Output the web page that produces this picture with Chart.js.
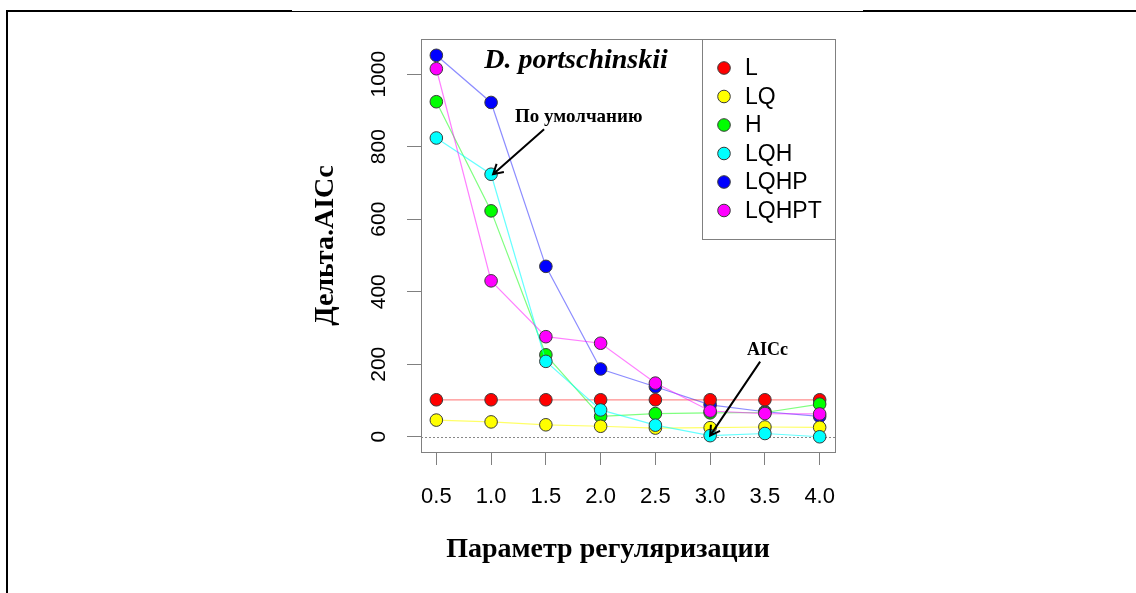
<!DOCTYPE html>
<html>
<head>
<meta charset="utf-8">
<script src="https://cdn.jsdelivr.net/npm/chart.js@4/dist/chart.umd.min.js"></script>
<style>
  body { margin: 0; background: #fff; }
  #wrap { position: relative; width: 1136px; height: 593px; overflow: hidden; }
  .rule { position: absolute; background: #000; }
  canvas { position: absolute; left: 0; top: 0; }
</style>
</head>
<body>
<div id="wrap">
  <div class="rule" style="left:6px;top:10px;width:2px;height:583px"></div>
  <div class="rule" style="left:6px;top:10px;width:286px;height:2px"></div>
  <div class="rule" style="left:292px;top:11px;width:571px;height:1px"></div>
  <div class="rule" style="left:863px;top:10px;width:273px;height:2px"></div>
  <canvas id="myChart" width="1136" height="593"></canvas>
</div>
<script>
// параметр регуляризации
var regParams = [0.5, 1.0, 1.5, 2.0, 2.5, 3.0, 3.5, 4.0];
var xTicks = [0.5, 1.0, 1.5, 2.0, 2.5, 3.0, 3.5, 4.0];
var xTickLabels = ['0.5', '1.0', '1.5', '2.0', '2.5', '3.0', '3.5', '4.0'];
var yTicks = [0, 200, 400, 600, 800, 1000];
var yTickLabels = ['0', '200', '400', '600', '800', '1000'];

// дельта AICc по классам признаков
var seriesNames = ['L', 'LQ', 'H', 'LQH', 'LQHP', 'LQHPT'];
var valL     = [102, 102, 102, 102, 102, 102, 102, 102];
var valLQ    = [46, 41, 33, 29, 24, 25, 27, 26];
var valH     = [924, 623, 226, 56, 64, 66, 67, 90];
var valLQH   = [824, 724, 208, 74, 32, 3, 9, 0];
var valLQHP  = [1052, 922, 470, 187, 138, 88, 69, 56];
var valLQHPT = [1015, 430, 276, 258, 148, 71, 64, 63];

var seriesColors = ['#ff0000', '#ffff00', '#00ff00', '#00ffff', '#0000ff', '#ff00ff'];
var lineColors = ['rgba(255,0,0,0.45)', 'rgba(255,255,0,0.6)', 'rgba(0,255,0,0.5)',
                  'rgba(0,255,255,0.6)', 'rgba(0,0,255,0.45)', 'rgba(255,0,255,0.5)'];
// порядок отрисовки (0 - поверх всех)
var drawOrder = [4, 2, 3, 1, 5, 0];

function toPoints(vals) {
  var pts = [];
  for (var i = 0; i < regParams.length; i++) {
    pts.push({ x: regParams[i], y: vals[i] });
  }
  return pts;
}

var allValues = [valL, valLQ, valH, valLQH, valLQHP, valLQHPT];
var datasets = [];
for (var s = 0; s < seriesNames.length; s++) {
  datasets.push({
    label: seriesNames[s],
    data: toPoints(allValues[s]),
    borderColor: lineColors[s],
    borderWidth: 1.2,
    pointBackgroundColor: seriesColors[s],
    pointBorderColor: '#3a3a3a',
    pointBorderWidth: 1,
    pointRadius: 6.3,
    tension: 0,
    order: drawOrder[s]
  });
}

// рамка, пунктир на нуле, подписи осей, легенда и стрелки
var decorPlugin = {
  id: 'decor',
  beforeDatasetsDraw: function(chart) {
    var ctx = chart.ctx, a = chart.chartArea, y = chart.scales.y;
    ctx.save();
    ctx.strokeStyle = '#888';
    ctx.lineWidth = 1;
    ctx.setLineDash([2, 2]);
    var y0 = Math.round(y.getPixelForValue(0)) + 0.5;
    ctx.beginPath();
    ctx.moveTo(a.left, y0);
    ctx.lineTo(a.right, y0);
    ctx.stroke();
    ctx.restore();
  },
  afterDraw: function(chart) {
    var ctx = chart.ctx, a = chart.chartArea;
    var xs = chart.scales.x, ys = chart.scales.y;
    ctx.save();

    // рамка графика
    ctx.strokeStyle = '#808080';
    ctx.lineWidth = 1;
    ctx.strokeRect(Math.round(a.left) + 0.5, Math.round(a.top) + 0.5,
                   Math.round(a.right - a.left), Math.round(a.bottom - a.top));

    // подписи оси Y (повернутые)
    ctx.fillStyle = '#000';
    ctx.font = '21px "Liberation Sans", Arial, sans-serif';
    ctx.textAlign = 'center';
    ctx.textBaseline = 'middle';
    for (var i = 0; i < yTicks.length; i++) {
      ctx.save();
      ctx.translate(379, ys.getPixelForValue(yTicks[i]));
      ctx.rotate(-Math.PI / 2);
      ctx.fillText(yTickLabels[i], 0, 0);
      ctx.restore();
    }

    // названия осей
    ctx.font = 'bold 28px "Liberation Serif", "Times New Roman", serif';
    ctx.textBaseline = 'middle';
    ctx.fillText('Параметр регуляризации', 608, 550);
    ctx.save();
    ctx.translate(326, (a.top + a.bottom) / 2);
    ctx.rotate(-Math.PI / 2);
    ctx.fillText('Дельта.AICc', 0, 0);
    ctx.restore();

    // заголовок
    ctx.font = 'italic bold 28px "Liberation Serif", "Times New Roman", serif';
    ctx.textBaseline = 'alphabetic';
    ctx.fillText('D. portschinskii', 576, 68);

    // легенда
    var lx = 702, ly = 39, lw = 133, lh = 200;
    ctx.fillStyle = '#fff';
    ctx.fillRect(lx, ly, lw, lh);
    ctx.strokeStyle = '#808080';
    ctx.strokeRect(lx + 0.5, ly + 0.5, lw, lh);
    ctx.font = '23px "Liberation Sans", Arial, sans-serif';
    ctx.textAlign = 'left';
    ctx.textBaseline = 'middle';
    for (var k = 0; k < seriesNames.length; k++) {
      var ry = 68 + k * 28.5;
      ctx.beginPath();
      ctx.arc(724, ry, 6.3, 0, Math.PI * 2);
      ctx.fillStyle = seriesColors[k];
      ctx.fill();
      ctx.strokeStyle = '#3a3a3a';
      ctx.lineWidth = 1;
      ctx.stroke();
      ctx.fillStyle = '#000';
      ctx.fillText(seriesNames[k], 745, ry + 1);
    }

    // стрелки к выбранным значениям
    ctx.font = 'bold 19px "Liberation Serif", "Times New Roman", serif';
    ctx.textBaseline = 'alphabetic';
    ctx.fillText('По умолчанию', 515, 122);
    ctx.font = 'bold 18px "Liberation Serif", "Times New Roman", serif';
    ctx.fillText('AICc', 747, 355);
    drawArrow(ctx, xs.getPixelForValue(1.0) + 2, ys.getPixelForValue(valLQH[1]), 51, -45);
    drawArrow(ctx, xs.getPixelForValue(3.0), ys.getPixelForValue(valLQH[5]), 50, -74);

    ctx.restore();
  }
};

function drawArrow(ctx, hx, hy, dx, dy) {
  var tx = hx + dx, ty = hy + dy;
  var ang = Math.atan2(hy - ty, hx - tx);
  var len = 11;
  ctx.strokeStyle = '#000';
  ctx.lineWidth = 2;
  ctx.beginPath();
  ctx.moveTo(tx, ty);
  ctx.lineTo(hx, hy);
  ctx.moveTo(hx - len * Math.cos(ang - Math.PI / 6), hy - len * Math.sin(ang - Math.PI / 6));
  ctx.lineTo(hx, hy);
  ctx.lineTo(hx - len * Math.cos(ang + Math.PI / 6), hy - len * Math.sin(ang + Math.PI / 6));
  ctx.stroke();
}

var ctx = document.getElementById('myChart').getContext('2d');
var myChart = new Chart(ctx, {
  type: 'line',
  data: { datasets: datasets },
  options: {
    responsive: false,
    animation: false,
    layout: { padding: { left: 0, top: 39, right: 301, bottom: 0 } },
    plugins: { legend: { display: false }, tooltip: { enabled: false } },
    scales: {
      x: {
        type: 'linear',
        min: 0.36,
        max: 4.14,
        afterBuildTicks: function(scale) {
          scale.ticks = xTicks.map(function(v) { return { value: v }; });
        },
        afterFit: function(scale) { scale.height = 141; },
        ticks: {
          autoSkip: false,
          maxRotation: 0,
          padding: 19,
          color: '#000',
          font: { family: '"Liberation Sans", Arial, sans-serif', size: 22 },
          callback: function(value, index) { return xTickLabels[index]; }
        },
        grid: { drawOnChartArea: false, drawTicks: true, tickLength: 13, color: '#808080' },
        border: { display: false }
      },
      y: {
        type: 'linear',
        min: -42,
        max: 1097,
        afterBuildTicks: function(scale) {
          scale.ticks = yTicks.map(function(v) { return { value: v }; });
        },
        afterFit: function(scale) { scale.width = 421; },
        ticks: { display: false },
        grid: { drawOnChartArea: false, drawTicks: true, tickLength: 14, color: '#808080' },
        border: { display: false }
      }
    }
  },
  plugins: [decorPlugin]
});
</script>
</body>
</html>
